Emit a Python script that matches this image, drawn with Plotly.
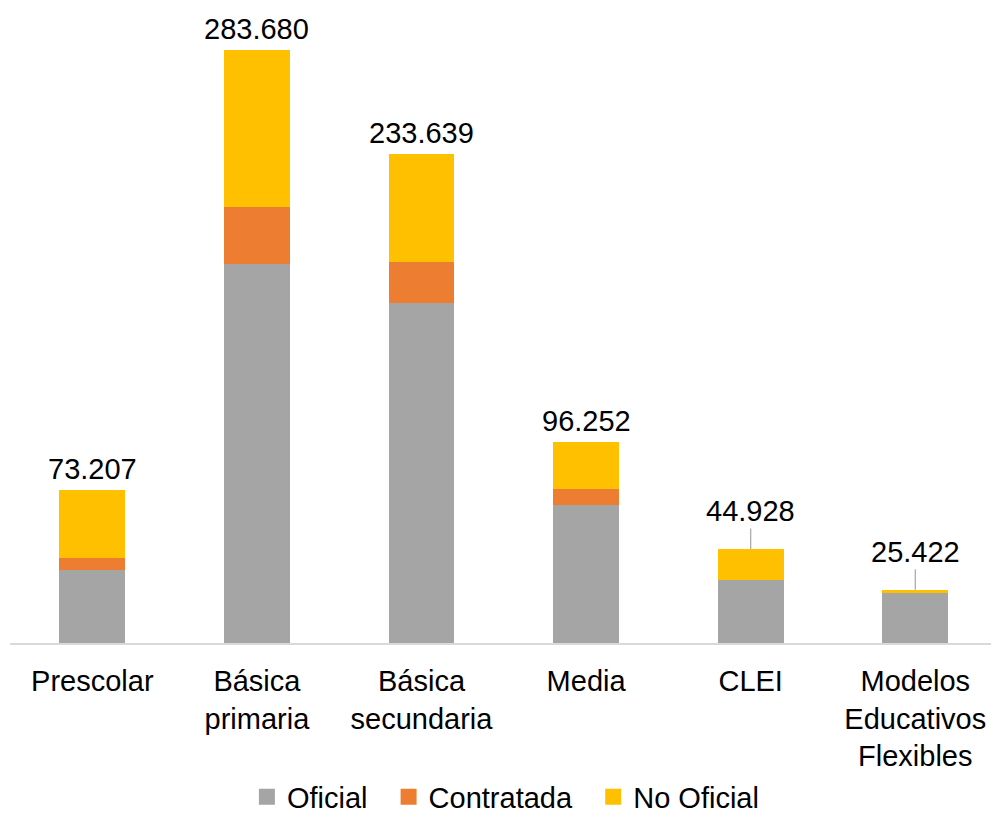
import plotly.graph_objects as go

categories = ["Prescolar", "Básica<br>primaria", "Básica<br>secundaria", "Media", "CLEI",
              "Modelos<br>Educativos<br>Flexibles"]
oficial = [34800, 181200, 162600, 65800, 30000, 23800]
contratada = [5700, 27200, 19600, 7600, 0, 0]
no_oficial = [32707, 75280, 51439, 22852, 14928, 1622]
totals = [73207, 283680, 233639, 96252, 44928, 25422]
total_labels = ["73.207", "283.680", "233.639", "96.252", "44.928", "25.422"]
leader = [False, False, False, False, True, True]
series_names = ["Oficial", "Contratada", "No Oficial"]
series_colors = ["#A5A5A5", "#ED7D31", "#FFC000"]
series_values = [oficial, contratada, no_oficial]

FONT = "Liberation Sans, Arial, sans-serif"
FS = 29
NB = "\u00a0\u00a0"

fig = go.Figure()
for name, vals, col in zip(series_names, series_values, series_colors):
    fig.add_trace(go.Bar(x=categories, y=vals, name=name, marker_color=col,
                         marker_line_width=0, width=0.40, showlegend=False))
for i, (name, col) in enumerate(zip(series_names, series_colors)):
    label = name + (NB if i < len(series_names) - 1 else "")
    fig.add_trace(go.Scatter(x=[None], y=[None], mode="markers", name=label,
                             marker=dict(symbol="square", size=17, color=col),
                             showlegend=True))

for c, t, lab, ld in zip(categories, totals, total_labels, leader):
    if ld:
        fig.add_annotation(x=c, y=t, text=lab, showarrow=True, arrowhead=0,
                           arrowwidth=1.2, arrowcolor="#a6a6a6", ax=0, ay=-38,
                           standoff=0, font=dict(size=FS, color="#000", family=FONT))
    else:
        fig.add_annotation(x=c, y=t, text=lab, showarrow=False, yanchor="bottom",
                           yshift=3, font=dict(size=FS, color="#000", family=FONT))

fig.update_layout(
    width=991, height=816,
    margin=dict(l=10, r=0, t=8, b=173, autoexpand=False),
    barmode="stack",
    paper_bgcolor="white", plot_bgcolor="white",
    font=dict(family=FONT, size=FS, color="#000"),
    bargap=0.6,
    showlegend=True,
    legend=dict(orientation="h", x=0.505, xanchor="center", y=-0.2425, yanchor="middle",
                font=dict(size=FS, family=FONT), traceorder="normal",
                itemwidth=30, bgcolor="rgba(0,0,0,0)"),
)
fig.update_xaxes(range=[-0.5, 5.46], showline=True, linecolor="#d9d9d9", linewidth=2,
                 ticks="", showgrid=False, tickfont=dict(size=FS, family=FONT),
                 ticklabelstandoff=11, automargin=False, fixedrange=True)
fig.update_yaxes(range=[0, 303600], visible=False, showgrid=False, automargin=False,
                 fixedrange=True)

fig.write_html("out.html", config={"displayModeBar": False},
               post_script="document.body.style.margin='0';document.body.style.overflow='hidden';")
